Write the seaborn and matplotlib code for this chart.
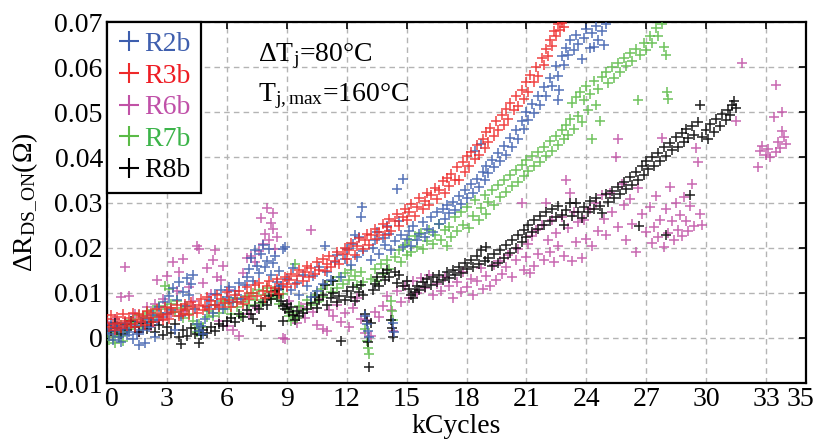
import numpy as np
import pandas as pd
import seaborn as sns
import matplotlib
matplotlib.use("Agg")
import matplotlib.pyplot as plt
import matplotlib.transforms as mtransforms
from matplotlib.lines import Line2D
from matplotlib.ticker import FuncFormatter

# values: (kCycles, delta R in mOhm)
r2b = [(0.0,2.0),(0.1,0.8),(0.2,3.1),(0.3,-0.5),(0.4,1.5),(0.5,2.6),(0.6,0.2),(0.7,-0.8),(0.8,1.9),(0.9,3.4),(1.0,0.6),
       (1.1,1.2),(1.3,-0.3),(1.4,2.8),(1.5,0.9),(1.7,3.6),(1.8,1.7),(2.0,4.2),(1.6,-1.6),(1.9,-1.2),
       (2.1,2.5),(2.3,5.0),(2.4,0.1),(2.5,3.9),(2.6,6.8),(2.8,4.6),(2.9,7.9),(3.0,5.5),
       (3.1,9.2),(3.2,6.1),(3.3,11.0),(3.4,1.8),(3.5,8.4),(3.6,12.4),(3.7,4.9),(3.8,10.1),(3.9,7.0),(4.0,13.2),
       (4.1,9.5),(4.2,12.0),(4.3,14.0),(4.4,6.3),(4.5,3.0),(4.6,1.5),(4.7,2.6),(4.8,0.9),(4.9,4.1),(5.0,6.8),
       (5.1,8.3),(5.3,5.6),(5.4,9.8),(5.5,7.2),(5.7,10.6),(5.8,6.4),(6.0,9.0),
       (6.1,11.3),(6.3,7.9),(6.4,10.4),(6.6,12.1),(6.7,8.6),(6.9,11.7),(7.0,13.5),
       (7.1,15.2),(7.2,17.8),(7.3,12.6),(7.4,19.4),(7.5,16.0),(7.6,14.3),(7.7,18.6),(7.8,20.5),(7.9,15.7),
       (8.0,17.1),(8.1,19.8),(8.2,13.9),(8.3,16.6),(8.4,18.2),(8.5,12.4),
       (8.6,14.8),(8.7,11.5),(8.8,19.6),(8.9,20.2),(9.0,13.0),(9.2,10.6),(9.3,15.4),(9.5,12.2),(9.6,9.4),(9.8,14.0),(10.0,11.6),
       (10.2,9.1),(10.3,13.7),(10.5,10.3),(10.6,15.8),(10.8,11.9),(10.9,20.3),(11.0,14.5),(11.2,12.8),(11.4,16.9),
       (11.5,18.4),(11.7,13.6),(11.9,17.5),(12.0,19.6),(12.4,22.8),(12.7,26.8),(12.75,29.0),
       (12.2,16.2),(12.3,20.8),(12.5,18.0),(12.6,22.4),(12.8,19.2),(12.9,4.8),(13.0,3.0),(13.05,1.6),(13.1,0.2),(13.2,17.3),
       (13.3,19.9),(13.4,21.8),(13.5,23.5),(13.6,18.6),(13.8,22.2),(13.9,20.6),(14.0,24.9),(14.1,23.1),(14.2,19.4),
       (14.3,3.4),(14.35,1.2),(14.4,21.4),(14.6,26.0),(14.7,22.7),(14.8,20.1),(15.0,21.9),(14.5,33.0),(14.8,35.2),
       (15.1,23.6),(15.2,20.4),(15.3,24.8),(15.5,21.6),(15.6,23.0),(15.8,25.6),(15.9,22.3),(16.0,24.1),(16.2,26.8),
       (16.3,23.5),(16.5,27.9),(16.6,25.2),(16.8,28.6),(16.9,26.3),(17.0,29.4),
       (17.1,27.6),(17.3,30.2),(17.4,28.4),(17.6,31.5),(17.7,29.6),(17.9,32.8),(18.0,30.9),(18.2,34.0),(18.3,32.2),
       (18.5,35.3),(18.6,33.4),(18.8,36.8),(18.9,34.9),(19.0,38.0),(18.4,41.5),(18.7,43.0),
       (19.1,36.6),(19.3,39.4),(19.4,37.8),(19.6,40.9),(19.7,39.1),(19.9,42.5),(20.0,40.6),(20.2,44.2),(20.3,42.4),
       (20.5,46.1),(20.6,44.0),(20.8,48.0),(20.9,46.3),(21.0,50.0),
       (21.1,48.2),(21.3,51.8),(21.4,49.9),(21.6,53.6),(21.7,51.5),(21.9,55.5),(22.0,53.7),(22.2,57.6),(22.3,55.8),
       (22.5,60.2),(22.6,58.0),(22.8,62.4),(22.9,60.5),(23.0,64.3),(22.6,52.7),(22.65,55.0),
       (23.1,62.6),(23.2,66.0),(23.4,63.8),(23.5,67.2),(23.6,65.1),(23.8,61.9),(23.9,66.4),(24.0,68.5),(24.2,64.2),
       (24.3,67.6),(24.5,69.2),(24.6,66.0),(24.8,68.1),(24.9,64.9),(25.0,69.5),(24.4,64.4)]

r3b = [(0.0,4.2),(0.1,2.5),(0.2,5.1),(0.3,3.0),(0.4,1.8),(0.5,4.6),(0.6,3.3),(0.7,2.2),(0.8,5.4),(0.9,3.8),(1.0,2.7),
       (1.1,4.4),(1.2,3.1),(1.3,5.6),(1.4,2.4),(1.5,4.0),(1.6,5.2),(1.7,3.5),(1.8,4.8),(1.9,2.9),(2.0,6.0),
       (2.1,4.3),(2.2,5.5),(2.3,3.6),(2.5,6.3),(2.6,4.7),(2.7,5.0),(2.8,3.9),(2.9,6.8),(3.0,5.2),
       (3.1,4.1),(3.2,6.6),(3.3,5.7),(3.5,7.2),(3.6,4.8),(3.7,6.1),(3.8,5.4),(3.9,7.6),(4.0,6.4),
       (4.1,5.0),(4.2,8.0),(4.3,6.8),(4.5,5.6),(4.6,7.4),(4.7,8.6),(4.8,6.2),(4.9,7.1),(5.0,9.0),
       (5.1,6.5),(5.2,8.1),(5.4,7.3),(5.5,9.4),(5.6,6.9),(5.7,8.7),(5.9,7.8),(6.0,10.1),
       (6.1,8.3),(6.2,6.9),(6.4,9.6),(6.5,8.0),(6.6,10.4),(6.8,7.6),(6.9,9.1),(7.0,11.2),
       (7.1,8.6),(7.2,10.0),(7.4,11.8),(7.5,9.3),(7.6,12.2),(7.8,10.5),(7.9,8.9),(8.0,11.5),
       (8.1,12.6),(8.2,10.2),(8.4,11.0),(8.5,13.1),(8.6,9.8),(8.8,12.0),(8.9,13.6),(9.0,11.3),
       (9.1,12.9),(9.2,14.2),(9.4,11.9),(9.5,13.8),(9.6,15.0),(9.8,12.7),(9.9,14.6),(10.0,16.0),
       (10.1,13.4),(10.2,15.5),(10.4,14.1),(10.5,16.8),(10.6,15.0),(10.8,17.4),(10.9,14.8),(11.0,16.3),
       (11.1,18.2),(11.2,15.7),(11.4,17.0),(11.5,19.1),(11.6,16.4),(11.8,18.6),(11.9,20.0),(12.0,17.5),
       (12.1,19.4),(12.2,21.0),(12.4,18.3),(12.5,20.3),(12.6,22.1),(12.8,19.8),(12.9,21.6),(13.0,23.0),
       (13.1,20.6),(13.2,22.7),(13.4,24.2),(13.5,21.9),(13.6,23.5),(13.8,25.3),(13.9,22.8),(14.0,24.6),
       (14.1,26.4),(14.2,23.7),(14.4,25.8),(14.5,27.4),(14.6,24.9),(14.8,26.9),(14.9,28.5),(15.0,26.2),
       (15.1,28.0),(15.2,29.6),(15.4,27.1),(15.5,29.0),(15.6,31.0),(15.8,28.6),(15.9,30.4),(16.0,32.1),
       (16.1,29.5),(16.2,31.6),(16.4,33.3),(16.5,30.8),(16.6,32.7),(16.8,34.8),(16.9,32.0),(17.0,35.5),
       (17.1,33.6),(17.2,36.4),(17.4,35.0),(17.5,37.8),(17.6,34.9),(17.8,38.9),(17.9,36.7),(18.0,40.2),
       (18.1,38.0),(18.2,41.3),(18.4,39.6),(18.5,42.8),(18.6,40.5),(18.8,44.0),(18.9,42.0),(19.0,45.6),
       (19.1,43.4),(19.2,46.5),(19.4,44.8),(19.5,48.0),(19.6,46.0),(19.8,49.4),(19.9,47.2),(20.0,50.8),
       (20.1,48.6),(20.2,52.0),(20.4,50.5),(20.5,53.6),(20.6,51.4),(20.8,55.0),(20.9,53.0),(21.0,56.8),
       (21.1,54.5),(21.2,58.2),(21.4,56.6),(21.5,60.0),(21.6,58.0),(21.8,62.0),(21.9,60.4),(22.0,64.0),
       (22.1,62.5),(22.2,66.0),(22.3,64.6),(22.4,68.0),(22.5,66.8),(22.6,69.5),(22.7,68.2),(22.8,69.8),(22.9,69.0)]

r6b = [(0.0,3.5),(0.2,1.0),(0.4,4.2),(0.6,2.0),(0.7,9.0),(0.9,15.6),(1.1,9.3),(1.2,3.0),(1.4,5.4),(1.6,1.4),(1.8,4.6),
       (2.0,6.8),(2.2,2.6),(2.4,7.5),(2.5,12.8),(2.6,4.0),(2.8,8.6),(3.0,13.7),(3.2,5.5),(3.3,16.9),(3.5,10.4),
       (3.6,14.6),(3.8,17.4),(3.9,6.0),
       (4.1,11.3),(4.3,8.2),(4.5,20.4),(4.6,19.6),(4.8,12.2),(5.0,15.5),(5.2,9.8),(5.3,17.2),(5.4,19.4),(5.5,13.5),
       (5.6,3.8),(5.7,12.8),(5.8,16.0),(6.0,2.6),(6.1,10.6),(6.3,1.8),(6.5,8.6),(6.6,0.4),(6.8,14.4),(7.0,17.6),
       (7.1,5.2),(7.2,18.2),(7.4,16.8),(7.5,6.6),(7.6,19.2),(7.7,26.5),(7.8,20.8),(7.9,23.0),(8.0,28.8),(8.1,21.6),
       (8.2,25.4),(8.3,24.1),(8.3,27.6),(8.4,19.8),(8.5,22.4),(8.6,9.4),(8.8,0.0),(8.9,-0.3),
       (9.1,8.2),(9.3,5.1),(9.5,3.4),(9.7,6.8),(9.9,4.4),(10.0,7.6),(10.2,24.0),(10.3,5.8),(10.5,2.8),(10.6,8.6),
       (10.8,1.9),(11.0,1.6),(11.1,6.2),(11.3,4.8),(11.5,7.4),(11.7,3.6),(11.9,5.6),(12.1,2.4),(12.3,6.6),(12.5,8.8),
       (12.7,4.2),(12.9,1.0),(13.0,3.9),(13.2,0.4),(13.4,5.8),(13.6,4.6),(13.8,7.0),(14.0,9.2),(14.2,6.2),(14.3,1.6),
       (14.5,10.4),(14.7,8.0),(14.9,11.6),
       (15.1,8.8),(15.3,12.6),(15.5,10.0),(15.7,13.2),(15.9,11.0),(16.1,14.0),(16.3,9.6),(16.5,12.0),(16.7,10.4),
       (16.9,13.6),(17.1,11.4),(17.3,8.8),(17.5,12.4),(17.7,10.2),(17.8,14.6),(18.0,11.2),(18.2,13.0),(18.3,9.4),
       (18.5,12.6),(18.7,15.4),(18.8,10.8),(19.0,13.8),(19.2,11.6),(19.4,16.2),(19.5,12.8),(19.7,17.0),(19.8,14.2),
       (20.0,15.8),(20.1,18.4),(20.3,13.6),(20.5,17.2),(20.6,19.6),(20.8,29.8),(20.9,15.0),(21.0,18.0),
       (21.1,20.8),(21.2,14.4),(21.3,22.6),(21.4,16.0),(21.5,23.8),(21.6,18.6),(21.8,25.0),(21.9,17.2),(22.0,30.0),
       (22.1,21.6),(22.2,19.0),(22.3,26.2),(22.4,16.8),(22.5,23.2),(22.6,20.4),(22.8,26.8),(22.9,18.2),(23.0,35.0),
       (23.1,24.4),(23.2,32.0),(23.3,17.0),(23.4,28.0),(23.5,21.2),(23.6,25.6),(23.8,17.8),(23.9,26.2),(24.0,22.0),
       (24.2,28.6),(24.3,20.4),(24.5,30.0),(24.6,23.6),(24.8,31.6),(24.9,26.4),(25.0,22.8),(25.2,32.2),(25.3,28.0),
       (25.5,40.0),(25.6,24.6),(25.6,44.0),(25.8,34.0),(25.9,29.4),(26.0,21.6),(26.2,30.8),(26.3,25.2),(26.5,19.0),
       (26.6,33.2),(26.8,27.4),(27.0,23.4),
       (27.2,29.0),(27.3,21.0),(27.4,24.6),(27.5,31.4),(27.6,22.4),(27.7,26.2),(27.8,44.4),(27.9,20.2),(28.0,28.6),
       (28.1,23.2),(28.2,33.4),(28.3,25.8),(28.4,21.6),(28.5,30.0),(28.6,24.0),(28.7,27.2),(28.8,22.6),(28.9,31.2),
       (29.0,26.0),(29.1,23.6),(29.2,29.2),(29.3,34.0),(29.4,24.8),(29.5,42.0),(29.6,39.0),(29.7,27.4),(29.8,25.0),
       (31.5,48.0),(31.8,60.9),(32.6,37.8),(32.7,41.4),(32.8,42.6),(33.0,40.6),(33.1,41.8),(33.2,40.0),(33.4,49.0),
       (33.5,56.0),(33.5,41.2),(33.6,43.4),(33.7,42.0),(33.8,50.0),(33.9,44.6),(34.0,43.0),(33.8,45.8)]

r7b = [(0.0,1.0),(0.1,-0.4),(0.2,2.2),(0.3,0.3),(0.4,-1.2),(0.5,1.6),(0.6,0.5),(0.7,2.8),(0.8,-0.6),(0.9,1.3),(1.0,3.1),
       (1.1,2.0),(1.3,4.0),(1.4,3.2),(1.6,5.1),(1.7,2.6),(1.9,4.4),(2.0,5.8),
       (2.1,3.6),(2.3,6.1),(2.4,4.9),(2.6,7.0),(2.7,5.3),(2.9,11.5),(3.0,6.4),
       (3.1,10.8),(3.2,7.5),(3.4,5.8),(3.5,8.2),(3.7,6.6),(3.8,4.5),(4.0,7.1),
       (4.1,5.2),(4.3,3.8),(4.4,2.1),(4.5,1.2),(4.6,3.0),(4.7,0.6),(4.8,2.4),(5.0,4.6),
       (5.1,6.0),(5.3,4.9),(5.4,7.3),(5.6,5.6),(5.8,8.1),(5.9,6.3),(6.1,7.7),(6.2,5.4),(6.4,8.8),(6.5,6.9),(6.7,4.8),
       (6.8,7.9),(7.0,9.3),
       (7.1,7.2),(7.3,9.9),(7.4,8.4),(7.6,10.6),(7.7,7.8),(7.9,9.5),(8.0,11.0),(8.2,8.7),(8.3,10.3),(8.5,9.0),(8.6,7.5),
       (8.8,9.8),(9.0,6.3),(9.4,16.3),
       (9.1,4.9),(9.2,3.8),(9.3,5.6),(9.5,4.4),(9.6,7.0),(9.8,6.1),(10.0,8.3),(10.2,7.4),(10.4,9.6),(10.5,8.0),
       (10.7,10.8),(10.8,9.1),(11.0,11.7),
       (11.2,10.2),(11.3,12.6),(11.5,11.1),(11.6,13.4),(11.8,12.0),(11.9,14.3),(12.1,12.9),(12.2,15.1),(12.4,13.7),
       (12.5,11.8),(12.7,14.6),(12.8,12.4),(12.9,2.0),(13.0,-0.6),(13.05,-2.2),(13.1,-3.6),
       (13.2,13.0),(13.4,15.2),(13.5,12.6),(13.7,16.4),(13.8,14.1),(14.0,17.2),(14.1,15.3),(14.2,8.2),(14.25,6.0),
       (14.3,4.0),(14.4,18.0),(14.6,19.5),(14.7,16.9),(14.9,20.6),(15.0,18.3),
       (15.1,21.8),(15.2,19.0),(15.4,22.6),(15.5,20.2),(15.7,23.3),(15.8,19.6),(16.0,21.4),(16.1,24.0),(16.3,20.7),
       (16.4,22.9),(16.6,25.2),(16.7,21.6),(16.9,23.8),(17.0,20.3),
       (17.1,24.6),(17.2,22.4),(17.4,26.7),(17.5,23.7),(17.7,27.9),(17.8,25.1),(18.0,29.0),(18.1,24.3),(18.3,27.0),
       (18.4,30.5),(18.6,26.2),(18.7,28.8),(18.9,31.6),(19.0,27.5),
       (19.1,30.1),(19.3,32.8),(19.4,29.4),(19.6,33.9),(19.7,31.2),(19.9,35.0),(20.0,32.4),(20.2,36.2),(20.3,33.6),
       (20.5,37.1),(20.6,34.5),(20.8,38.3),(20.9,35.9),(21.0,39.4),
       (21.1,37.0),(21.3,40.2),(21.4,38.1),(21.6,41.3),(21.7,39.0),(21.9,42.4),(22.0,40.3),(22.2,43.6),(22.3,41.5),
       (22.5,44.8),(22.6,42.7),(22.8,46.0),(22.9,44.1),(23.0,47.2),
       (23.1,45.0),(23.2,48.6),(23.3,52.0),(23.4,46.4),(23.5,53.4),(23.6,49.2),(23.7,54.6),(23.8,47.8),(23.9,52.8),
       (24.0,55.8),(24.1,50.4),(24.2,54.0),(24.3,44.0),(24.4,56.9),(24.5,51.6),(24.6,55.2),(24.7,48.0),(24.8,57.8),
       (25.0,59.0),(25.1,56.4),(25.3,60.1),(25.4,57.6),(25.6,61.0),(25.7,58.9),(25.9,62.0),(26.0,60.2),(26.2,63.1),
       (26.3,61.4),(26.5,64.0),(26.6,52.7),(26.7,62.6),(26.9,65.3),(27.0,63.8),(27.2,67.0),(27.3,65.4),(27.5,68.6),
       (27.6,66.8),(27.8,69.5),(27.9,64.4),(28.0,62.8),(28.05,54.4),(28.1,53.0)]

r8b = [(0.0,2.8),(0.2,1.5),(0.4,3.4),(0.5,2.2),(0.7,0.9),(0.9,3.0),(1.0,1.8),(1.2,3.8),(1.4,2.5),(1.6,1.2),(1.8,3.3),(2.0,2.0),
       (2.2,3.6),(2.4,1.4),(2.6,2.9),(2.8,0.6),(3.0,2.4),(3.2,1.0),(3.4,3.1),(3.6,0.2),(3.7,-1.3),(3.8,1.7),(4.0,0.4),
       (4.2,2.1),(4.4,0.9),(4.6,-1.2),(4.7,0.7),(4.8,1.8),(5.0,1.0),(5.2,2.4),(5.4,1.6),(5.6,3.0),(5.8,2.6),(6.0,3.8),
       (6.2,4.4),(6.4,3.6),(6.6,5.2),(6.8,4.6),(7.0,6.2),(7.2,5.4),(7.3,4.2),(7.4,7.0),(7.6,6.4),(7.7,2.6),(7.8,8.0),(8.0,7.4),
       (8.1,9.2),(8.2,8.6),(8.4,10.3),(8.5,9.5),(8.6,10.9),(8.7,8.1),(8.8,7.0),(8.9,6.3),(9.0,7.6),(9.1,5.8),(9.2,6.9),
       (9.3,5.1),(9.4,4.0),(9.5,6.0),(9.6,4.8),(9.8,5.5),(10.0,6.4),(8.8,3.8),
       (10.2,7.8),(10.4,9.0),(10.5,6.6),(10.6,8.4),(10.8,9.6),(11.0,7.2),(11.2,8.8),(11.3,10.0),(11.5,7.9),(11.6,9.3),
       (11.7,-0.6),(11.9,8.5),(12.0,10.4),(10.9,11.8),(11.3,12.6),
       (12.2,9.1),(12.3,11.2),(12.4,8.2),(12.6,10.1),(12.7,11.8),(12.8,9.5),(12.9,5.2),(13.0,3.8),(13.05,-1.0),(13.1,-6.4),
       (13.2,3.2),(13.3,10.7),
       (13.4,12.0),(13.5,13.6),(13.6,11.4),(13.8,14.4),(13.9,12.8),(14.0,15.0),(14.1,13.4),(14.2,4.0),(14.25,2.2),
       (14.3,0.1),(14.4,14.6),(14.5,12.2),(14.6,13.9),(14.8,11.6),(15.0,12.7),
       (15.1,10.8),(15.2,9.6),(15.3,8.8),(15.4,10.2),(15.5,11.6),(15.6,10.6),(15.8,12.4),(15.9,11.2),(16.0,13.0),
       (16.2,11.8),(16.3,13.5),(16.5,12.4),(16.6,14.0),(16.8,12.9),(17.0,14.5),
       (17.1,13.3),(17.3,15.1),(17.4,13.9),(17.6,15.8),(17.7,14.4),(17.9,16.5),(18.0,15.2),(18.2,17.3),(18.3,15.8),
       (18.5,18.1),(18.6,16.3),(18.7,19.4),(18.9,17.0),(19.0,20.2),
       (19.1,17.8),(19.3,15.9),(19.4,18.6),(19.6,16.6),(19.7,19.5),(19.9,17.6),(20.0,20.6),(20.2,18.8),(20.3,21.8),
       (20.5,20.0),(20.6,22.9),(20.8,21.2),(20.9,24.0),(21.0,22.4),
       (21.1,25.0),(21.3,23.4),(21.4,26.1),(21.6,24.2),(21.7,27.0),(21.9,25.1),(22.0,27.8),(22.2,26.0),(22.3,28.5),
       (22.5,26.7),(22.6,29.2),(22.8,27.3),(22.9,25.0),(23.0,28.4),
       (23.2,29.8),(23.3,27.1),(23.5,30.0),(23.6,28.0),(23.8,26.6),(23.9,29.1),(24.1,27.8),(24.2,30.3),(24.4,28.6),
       (24.5,31.0),(24.7,29.2),(24.8,27.6),(25.0,31.8),
       (25.1,30.1),(25.3,32.6),(25.4,31.0),(25.6,33.5),(25.7,31.8),(25.9,34.5),(26.0,32.9),(26.2,35.6),(26.3,33.8),
       (26.5,36.8),(26.6,35.1),(26.8,38.0),(26.9,36.2),(27.0,39.1),(26.65,24.9),(28.0,22.7),
       (27.1,37.4),(27.3,40.0),(27.4,38.2),(27.6,41.0),(27.7,39.3),(27.9,42.2),(28.0,40.4),(28.2,43.3),(28.3,41.6),
       (28.5,44.5),(28.6,42.4),(28.8,45.4),(28.9,43.5),(29.0,46.2),
       (29.1,44.2),(29.2,31.6),(29.3,47.0),(29.4,45.0),(29.6,47.8),(29.7,51.6),(29.8,44.6),(30.0,46.0),(30.1,44.0),
       (30.2,47.4),(30.4,45.6),(30.5,48.4),(30.7,47.0),(30.8,49.6),(31.0,48.2),(31.1,50.6),(31.2,49.4),(31.3,51.6),
       (31.4,52.6),(31.5,51.0)]

series_names = ["R2b", "R3b", "R6b", "R7b", "R8b"]
series_data = [r2b, r3b, r6b, r7b, r8b]
marker_colors = ["#3d5eae", "#ee2a2a", "#c152a6", "#5bbb47", "#000000"]
text_colors = ["#3f5fae", "#ee1c24", "#c050a8", "#3cb44a", "#000000"]
draw_order = ["R6b", "R7b", "R8b", "R2b", "R3b"]

x_ticks = [0, 3, 6, 9, 12, 15, 18, 21, 24, 27, 30, 33, 35]
y_ticks = [-0.01, 0, 0.01, 0.02, 0.03, 0.04, 0.05, 0.06, 0.07]

rows = []
for name, pts in zip(series_names, series_data):
    for kc, mohm in pts:
        rows.append((name, kc, mohm / 1000.0))
df = pd.DataFrame(rows, columns=["series", "kCycles", "dR"])

sns.set_style("white")
plt.rcParams["font.family"] = ["Liberation Serif", "DejaVu Serif"]
plt.rcParams["mathtext.fontset"] = "custom"
plt.rcParams["mathtext.rm"] = "Liberation Serif"
plt.rcParams["mathtext.it"] = "Liberation Serif:italic"
for k in ["text.color", "axes.labelcolor", "xtick.color", "ytick.color"]:
    plt.rcParams[k] = "black"

fig = plt.figure(figsize=(8.17, 4.43), dpi=100)
ax = fig.add_axes([0.131, 0.1354, 0.8556, 0.8149])

palette = dict(zip(series_names, marker_colors))
for name in draw_order:
    sns.scatterplot(data=df[df.series == name], x="kCycles", y="dR", color=palette[name],
                    marker="+", s=62, linewidth=1.15, alpha=0.85, ax=ax, legend=False, zorder=3)

ax.set_xlim(0, 35)
ax.set_ylim(-0.01, 0.07)
ax.set_xticks(x_ticks)
ax.set_yticks(y_ticks)
ax.yaxis.set_major_formatter(FuncFormatter(lambda v, p: f"{v:g}"))
ax.tick_params(direction="in", length=5, width=1.2, top=True, right=True, labelsize=20, pad=3)
ax.grid(True, color="#b4b4b4", linestyle=(0, (4, 3)), linewidth=1.0, zorder=0)
ax.set_axisbelow(True)
for sp in ax.spines.values():
    sp.set_linewidth(1.6)
    sp.set_color("black")

# nudge first and last x labels like the original
xlabels = ax.get_xticklabels()
xlabels[0].set_transform(xlabels[0].get_transform() + mtransforms.ScaledTranslation(5 / 100, 0, fig.dpi_scale_trans))
xlabels[-1].set_transform(xlabels[-1].get_transform() + mtransforms.ScaledTranslation(-6 / 100, 0, fig.dpi_scale_trans))

ax.set_xlabel("kCycles", fontsize=20, labelpad=1)
ax.set_ylabel(r"$\Delta$R$_{\mathrm{DS\_ON}}$($\Omega$)", fontsize=20, labelpad=4)

ax.text(0.216, 0.0625, r"$\Delta$T$_{\mathrm{j}}$=80°C", fontsize=20, va="center", ha="left",
        transform=ax.get_yaxis_transform())
ax.text(0.216, 0.0535, r"T$_{\mathrm{j,max}}$=160°C", fontsize=20, va="center", ha="left",
        transform=ax.get_yaxis_transform())

handles = [Line2D([], [], marker="+", ls="", color=c, markersize=15, mew=1.5) for c in marker_colors]
leg = ax.legend(handles, series_names, loc="upper left", bbox_to_anchor=(0, 1), borderaxespad=0,
                fontsize=20, frameon=True, fancybox=False, framealpha=1, edgecolor="black",
                handlelength=0.9, handletextpad=0.1, labelspacing=0.22, borderpad=0.35)
leg.get_frame().set_linewidth(1.6)
for t, c in zip(leg.get_texts(), text_colors):
    t.set_color(c)
leg.set_zorder(5)

fig.savefig("out.png", dpi=100)
